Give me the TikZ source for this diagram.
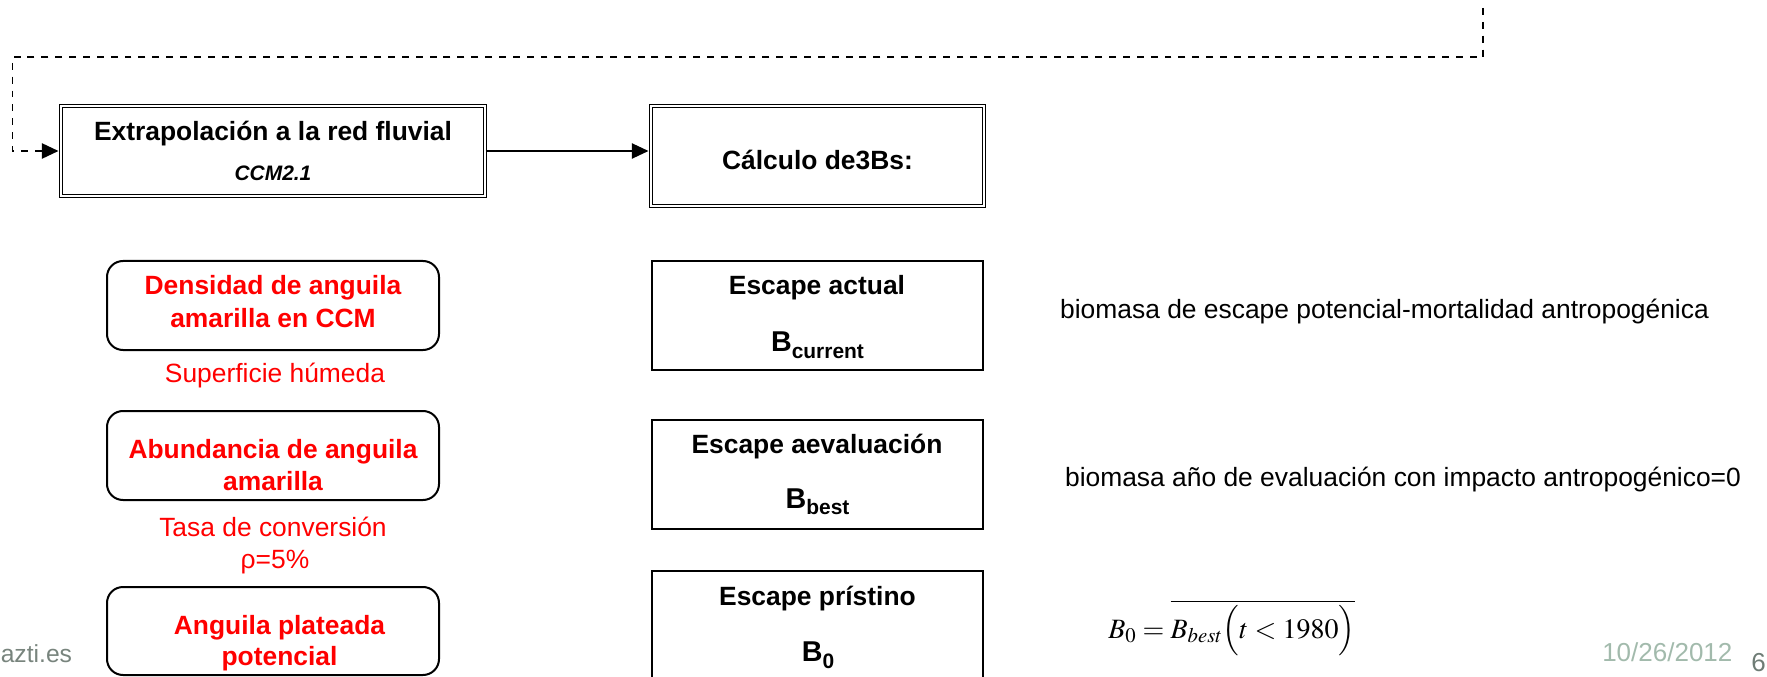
\documentclass[tikz,border=0pt]{standalone}
\usepackage{mathptmx}
\usepackage{fontspec}
\setmainfont{Liberation Sans}
\usetikzlibrary{arrows.meta,positioning}

\definecolor{slidered}{RGB}{255,0,0}
\definecolor{footgrey}{RGB}{120,132,125}
\definecolor{dategreen}{RGB}{162,186,172}
\definecolor{pagegrey}{RGB}{110,124,117}

\newcommand{\slidefont}{\fontsize{19.8}{24}\selectfont}
\newcommand{\Bsub}[1]{{\fontsize{21.5}{26}\selectfont B}\raisebox{-5pt}{\fontsize{15.7}{19}\selectfont #1}}

\tikzset{
    txt/.style={inner sep=0pt, anchor=base, font=\slidefont},
    boldtxt/.style={txt, font=\slidefont\bfseries},
    redtxt/.style={txt, text=slidered, font=\slidefont\bfseries},
    rednote/.style={txt, text=slidered},
    dblbox/.style={draw, double, double distance=1.5pt, line width=0.8pt, inner sep=0pt,
        minimum width=318pt, minimum height=67.5pt},
    redbox/.style={draw, line width=1.5pt, rounded corners=12pt, inner sep=0pt,
        minimum width=249pt, minimum height=66.75pt},
    escbox/.style={draw, line width=1.1pt, inner sep=0pt,
        minimum width=248.25pt, minimum height=81.75pt},
    flowarrow/.style={line width=1.1pt, -{Triangle[length=12.5pt, width=11.5pt]}, shorten >=1.5pt},
    loopline/.style={flowarrow, line width=1.3pt, dash pattern=on 5.2pt off 5.2pt}
}

\begin{document}
\begin{tikzpicture}[x=0.75pt, y=-0.75pt]
    \clip (0,0) rectangle (1767,677);

    % top row
    \node[dblbox] (extbox) at (273,151) {};
    \node[boldtxt] (exttitle) at (273,141) {Extrapolación a la red fluvial};
    \node[txt, font=\fontsize{15.7}{19}\selectfont\bfseries\itshape] (extccm) at (273,181) {CCM2.1};
    \node[dblbox, minimum width=249.75pt, minimum height=75pt] (calcbox) at (817.5,156) {};
    \node[boldtxt] (calctxt) at (817.5,170) {Cálculo de3Bs:};

    % left column
    \node[redbox] (densbox) at (273,305.5) {};
    \node[redtxt] (dens1) at (273,295) {Densidad de anguila};
    \node[redtxt] (dens2) at (273,327) {amarilla en CCM};
    \node[rednote] (surf) at (275,382.5) {Superficie húmeda};
    \node[redbox] (abunbox) at (273,455.5) {};
    \node[redtxt] (abun1) at (273,458) {Abundancia de anguila};
    \node[redtxt] (abun2) at (273,490.5) {amarilla};
    \node[rednote] (rate1) at (273,536) {Tasa de conversión};
    \node[rednote] (rate2) at (275,568) {ρ=5\%};
    \node[redbox, minimum height=66pt] (silvbox) at (273,631) {};
    \node[redtxt] (silv1) at (279.5,634) {Anguila plateada};
    \node[redtxt] (silv2) at (279.5,665) {potencial};

    % middle column
    \node[escbox] (actbox) at (817.5,315.5) {};
    \node[boldtxt] (acttxt) at (817,295) {Escape actual};
    \node[boldtxt] (actB) at (817.5,351.5) {\Bsub{current}};
    \node[escbox] (bestbox) at (817.5,474.5) {};
    \node[boldtxt] (besttxt) at (817,453.5) {Escape aevaluación};
    \node[boldtxt] (bestB) at (817.5,508) {\Bsub{best}};
    \node[escbox] (prisbox) at (817.5,625.5) {};
    \node[boldtxt] (pristxt) at (817.5,605) {Escape prístino};
    \node[boldtxt] (prisB) at (818,661.7) {\Bsub{0}};

    % right column
    \node[txt] (actnote) at (1384.5,319) {biomasa de escape potencial-mortalidad antropogénica};
    \node[txt] (bestnote) at (1403,486.5) {biomasa año de evaluación con impacto antropogénico=0};
    \node[txt, anchor=base west, font=\fontsize{21}{25}\selectfont] (prisnote) at (1108,638)
        {$B_0 = \overline{B_{best}\Bigl(t<1980\Bigr)}$};

    % footer
    \node[txt, anchor=base west, text=footgrey, font=\fontsize{18.5}{22}\selectfont] (web) at (0.5,662) {azti.es};
    \node[txt, anchor=base west, text=dategreen, font=\fontsize{19.5}{24}\selectfont] (date) at (1602,661.5) {10/26/2012};
    \node[txt, anchor=base east, text=pagegrey, font=\fontsize{19.5}{24}\selectfont] (page) at (1766,671.7) {6};

    % connectors
    \coordinate (fbtop) at (1483,8);
    \coordinate (fbcorner) at (12.5,57);
    \draw[loopline] (fbtop) |- (fbcorner) |- (extbox.west);
    \draw[flowarrow] (extbox.east) -- (extbox.east -| calcbox.west);
\end{tikzpicture}
\end{document}
